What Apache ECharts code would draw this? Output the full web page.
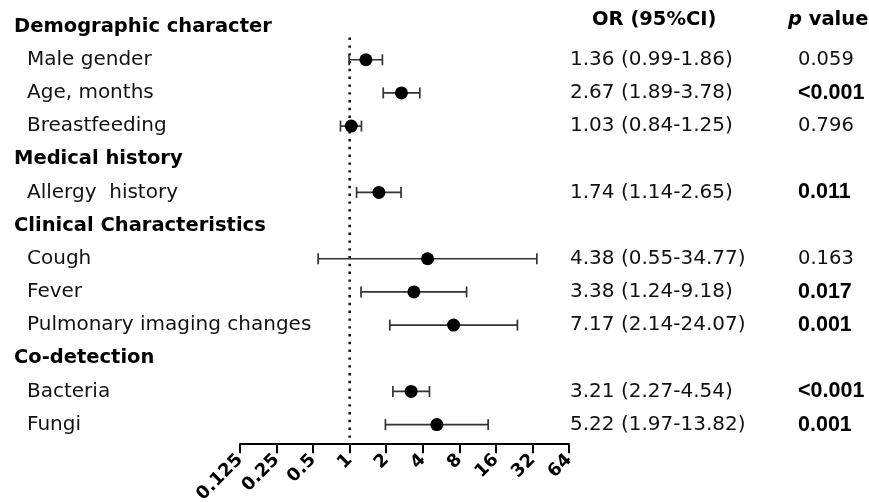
<!DOCTYPE html>
<html>
<head>
<meta charset="utf-8">
<script src="https://cdn.jsdelivr.net/npm/echarts@6/dist/echarts.min.js"></script>
<style>
html,body{margin:0;padding:0;background:#fff;}
#main{width:869px;height:502px;}
</style>
</head>
<body>
<div id="main"></div>
<script>
// ---- data ----
const rowLabels = ['Demographic character','Male gender','Age, months','Breastfeeding','Medical history','Allergy  history','Clinical Characteristics','Cough','Fever','Pulmonary imaging changes','Co-detection','Bacteria','Fungi'];
const isHeading = [true,false,false,false,true,false,true,false,false,false,true,false,false];
const orValues = [null,1.36,2.67,1.03,null,1.74,null,4.38,3.38,7.17,null,3.21,5.22];
const ciLower  = [null,0.99,1.89,0.84,null,1.14,null,0.55,1.24,2.14,null,2.27,1.97];
const ciUpper  = [null,1.86,3.78,1.25,null,2.65,null,34.77,9.18,24.07,null,4.54,13.82];
const orText = ['OR (95%CI)','1.36 (0.99-1.86)','2.67 (1.89-3.78)','1.03 (0.84-1.25)','','1.74 (1.14-2.65)','','4.38 (0.55-34.77)','3.38 (1.24-9.18)','7.17 (2.14-24.07)','','3.21 (2.27-4.54)','5.22 (1.97-13.82)'];
const pText  = ['p value','0.059','<0.001','0.796','','0.011','','0.163','0.017','0.001','','<0.001','0.001'];
const pBold  = [true,false,true,false,false,true,false,false,true,true,false,true,true];
const tickValues = [0.125,0.25,0.5,1,2,4,8,16,32,64];
const tickLabels = ['0.125','0.25','0.5','1','2','4','8','16','32','64'];
const refValue = 1;

// ---- build series data ----
const barData = [], pointData = [];
for (let i = 0; i < rowLabels.length; i++) {
  if (orValues[i] != null) {
    barData.push([ciLower[i], ciUpper[i], i]);
    pointData.push([orValues[i], i]);
  }
}

const FONT = 'DejaVu Sans';
const FONT_B = 'Liberation Sans';
const chart = echarts.init(document.getElementById('main'), null, {renderer:'canvas'});
chart.setOption({
  animation:false,
  backgroundColor:'#fff',
  textStyle:{fontFamily:FONT},
  grid:{left:240, right:300, top:10, bottom:60.8, containLabel:false, outerBoundsMode:'none'},
  xAxis:{
    type:'log', logBase:2, min:tickValues[0], max:tickValues[tickValues.length-1],
    splitNumber:10, offset:3,
    axisLine:{show:true, lineStyle:{color:'#000', width:2}},
    axisTick:{show:true, length:9, lineStyle:{color:'#000', width:2}},
    splitLine:{show:false},
    axisLabel:{
      rotate:45, margin:13, color:'#000', fontWeight:'bold', fontSize:18, fontFamily:FONT,
      showMinLabel:true, showMaxLabel:true, hideOverlap:false,
      formatter:function(v){
        let best=0, d=Infinity;
        tickValues.forEach(function(t,k){const dd=Math.abs(Math.log2(t)-Math.log2(v)); if(dd<d){d=dd;best=k;}});
        return tickLabels[best];
      }
    }
  },
  yAxis:[
    {
      type:'category', inverse:true, data:rowLabels, position:'left',
      axisLine:{show:false}, axisTick:{show:false}, splitLine:{show:false},
      axisLabel:{
        interval:0, align:'left', margin:226, color:'#000',
        formatter:function(v,i){ return isHeading[i] ? '{h|'+v+'}' : '{i|'+v+'}'; },
        rich:{
          h:{fontFamily:FONT, fontWeight:'bold', fontSize:19.5, color:'#000'},
          i:{fontFamily:FONT, fontSize:20, color:'#111', padding:[0,0,0,13]}
        }
      }
    },
    {
      type:'category', inverse:true, data:orText, position:'right',
      axisLine:{show:false}, axisTick:{show:false}, splitLine:{show:false},
      axisLabel:{
        interval:0, align:'left', margin:1, color:'#000',
        formatter:function(v,i){ if(v==='') return ''; return i===0 ? '{hd|'+v+'}' : '{v|'+v+'}'; },
        rich:{
          hd:{fontFamily:FONT, fontWeight:'bold', fontSize:19.5, color:'#000', padding:[0,0,14,22]},
          v:{fontFamily:FONT, fontSize:20, color:'#111'}
        }
      }
    },
    {
      type:'category', inverse:true, data:pText, position:'right',
      axisLine:{show:false}, axisTick:{show:false}, splitLine:{show:false},
      axisLabel:{
        interval:0, align:'left', margin:219, color:'#000',
        formatter:function(v,i){
          if(v==='') return '';
          if(i===0){ const parts=v.split(' '); return '{pi|'+parts[0]+'}{pb| '+parts.slice(1).join(' ')+'}'; }
          return pBold[i] ? '{b|'+v+'}' : '{n|'+v+'}';
        },
        rich:{
          pi:{fontFamily:FONT, fontWeight:'bold', fontStyle:'italic', fontSize:19.5, color:'#000', padding:[0,0,14,0]},
          pb:{fontFamily:FONT, fontWeight:'bold', fontSize:19.5, color:'#000', padding:[0,0,14,0]},
          b:{fontFamily:FONT_B, fontWeight:'bold', fontSize:21.5, color:'#000', padding:[0,0,0,10]},
          n:{fontFamily:FONT, fontSize:19.5, color:'#111', padding:[0,0,0,10]}
        }
      }
    }
  ],
  series:[
    {
      type:'custom', name:'ref', z:1, silent:true,
      data:[[refValue, 0]],
      encode:{x:0, y:1},
      renderItem:function(params, api){
        const p = api.coord([api.value(0), api.value(1)]);
        const cs = params.coordSys;
        return {type:'line', shape:{x1:p[0], y1:p[1]+11, x2:p[0], y2:cs.y+cs.height+3},
          style:{stroke:'#111', lineWidth:2.5, lineDash:[2.4,5.4]}};
      }
    },
    {
      type:'custom', name:'ci', z:2, silent:true,
      data:barData,
      encode:{x:[0,1], y:2},
      renderItem:function(params, api){
        const r = api.value(2);
        const a = api.coord([api.value(0), r]);
        const b = api.coord([api.value(1), r]);
        const h = 5.5, st = {stroke:'#333', lineWidth:1.7};
        return {type:'group', children:[
          {type:'line', shape:{x1:a[0], y1:a[1], x2:b[0], y2:b[1]}, style:st},
          {type:'line', shape:{x1:a[0], y1:a[1]-h, x2:a[0], y2:a[1]+h}, style:st},
          {type:'line', shape:{x1:b[0], y1:b[1]-h, x2:b[0], y2:b[1]+h}, style:st}
        ]};
      }
    },
    {
      type:'scatter', name:'OR', z:3, silent:true,
      data:pointData, symbol:'circle', symbolSize:13,
      itemStyle:{color:'#000', opacity:1}
    }
  ]
});
</script>
</body>
</html>
